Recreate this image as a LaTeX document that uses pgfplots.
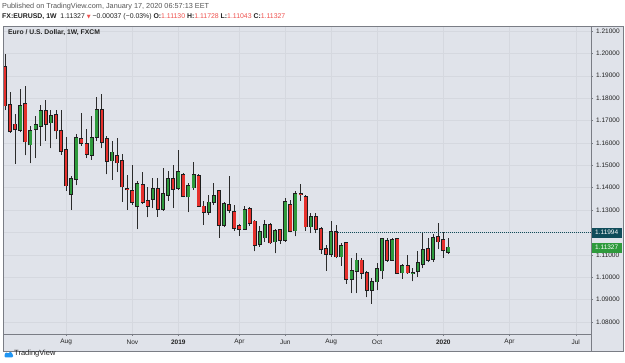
\documentclass[border=0pt]{standalone}
\usepackage{fontspec}
\setmainfont{Liberation Sans}
\newfontfamily\dejavu{DejaVu Sans}
\usepackage{pgfplots}
\usepackage{pgfplotstable}
\pgfplotsset{compat=1.18}
\definecolor{bg}{HTML}{E0E3EA}
\definecolor{gridc}{HTML}{D5D8DF}
\definecolor{upc}{HTML}{2E9A3C}
\definecolor{dnc}{HTML}{E5302C}
\definecolor{edge}{HTML}{1E1E1E}
\definecolor{wick}{HTML}{2B2B2B}
\definecolor{tealc}{HTML}{0F4C5A}
\definecolor{frame}{HTML}{7A7D85}
\definecolor{txt}{HTML}{222222}
\definecolor{hdr}{HTML}{555555}
\definecolor{redt}{HTML}{EF5350}
\definecolor{tvblue}{HTML}{2196F3}

\pgfplotstableread{
i O H L C
3 1.1658 1.1840 1.1648 1.1767
5 1.1592 1.1676 1.1509 1.1655
6 1.1661 1.1721 1.1532 1.1680
7 1.1676 1.1770 1.1587 1.1743
9 1.1691 1.1747 1.1576 1.1721
13 1.1372 1.1450 1.1301 1.1438
14 1.1438 1.1640 1.1410 1.1621
17 1.1546 1.1721 1.1524 1.1621
18 1.1625 1.1804 1.1610 1.1747
21 1.1521 1.1610 1.1435 1.1558
26 1.1319 1.1430 1.1215 1.1417
29 1.1350 1.1445 1.1309 1.1395
31 1.1304 1.1487 1.1298 1.1371
32 1.1368 1.1476 1.1342 1.1439
34 1.1398 1.1569 1.1390 1.1469
36 1.1360 1.1420 1.1291 1.1408
37 1.1400 1.1514 1.1390 1.1457
40 1.1291 1.1368 1.1279 1.1334
41 1.1334 1.1420 1.1323 1.1363
43 1.1234 1.1338 1.1224 1.1326
47 1.1215 1.1320 1.1212 1.1301
50 1.1148 1.1229 1.1137 1.1204
51 1.1177 1.1256 1.1159 1.1234
53 1.1159 1.1215 1.1107 1.1207
55 1.1167 1.1353 1.1159 1.1335
57 1.1208 1.1383 1.1182 1.1372
60 1.1226 1.1289 1.1197 1.1271
64 1.1104 1.1252 1.1092 1.1201
66 1.1092 1.1152 1.1051 1.1140
68 1.0993 1.1085 1.0929 1.1029
69 1.1026 1.1110 1.0929 1.1075
72 1.0944 1.0996 1.0881 1.0978
73 1.0980 1.1065 1.0942 1.1036
74 1.1030 1.1173 1.0993 1.1170
76 1.1078 1.1175 1.1073 1.1167
78 1.1021 1.1058 1.0993 1.1049
80 1.1020 1.1040 1.0981 1.1021
81 1.1029 1.1117 1.1002 1.1063
82 1.1058 1.1200 1.1040 1.1122
84 1.1081 1.1193 1.1070 1.1175
87 1.1113 1.1173 1.1104 1.1133
}\upd

\pgfplotstableread{
i O H L C
0 1.1938 1.1997 1.1747 1.1767
1 1.1770 1.1827 1.1645 1.1652
2 1.1683 1.1729 1.1508 1.1660
4 1.1773 1.1855 1.1544 1.1606
8 1.1743 1.1792 1.1610 1.1685
10 1.1725 1.1747 1.1617 1.1655
11 1.1655 1.1747 1.1546 1.1564
12 1.1569 1.1628 1.1387 1.1409
15 1.1617 1.1733 1.1587 1.1599
16 1.1596 1.1661 1.1532 1.1551
19 1.1747 1.1819 1.1576 1.1603
20 1.1617 1.1631 1.1460 1.1520
22 1.1542 1.1621 1.1470 1.1512
23 1.1520 1.1551 1.1338 1.1405
24 1.1396 1.1457 1.1301 1.1391
25 1.1387 1.1502 1.1323 1.1335
27 1.1413 1.1472 1.1328 1.1335
28 1.1341 1.1405 1.1267 1.1319
30 1.1393 1.1445 1.1271 1.1304
33 1.1438 1.1502 1.1309 1.1395
35 1.1457 1.1467 1.1358 1.1363
38 1.1453 1.1462 1.1316 1.1319
39 1.1316 1.1342 1.1234 1.1291
42 1.1386 1.1390 1.1177 1.1234
44 1.1323 1.1450 1.1286 1.1301
45 1.1291 1.1323 1.1207 1.1219
46 1.1229 1.1238 1.1185 1.1216
48 1.1305 1.1313 1.1229 1.1242
49 1.1249 1.1256 1.1115 1.1142
52 1.1234 1.1241 1.1149 1.1155
54 1.1212 1.1215 1.1150 1.1167
56 1.1323 1.1346 1.1200 1.1207
58 1.1373 1.1417 1.1342 1.1370
59 1.1360 1.1368 1.1207 1.1226
61 1.1271 1.1286 1.1197 1.1215
62 1.1215 1.1226 1.1104 1.1125
63 1.1125 1.1143 1.1030 1.1104
65 1.1201 1.1234 1.1085 1.1092
67 1.1152 1.1159 1.0971 1.0992
70 1.1075 1.1085 1.0992 1.1018
71 1.1018 1.1030 1.0910 1.0944
75 1.1163 1.1177 1.1070 1.1078
77 1.1170 1.1175 1.1015 1.1018
79 1.1049 1.1100 1.1015 1.1021
83 1.1127 1.1175 1.1066 1.1078
85 1.1179 1.1242 1.1125 1.1159
86 1.1167 1.1200 1.1087 1.1120
}\dnd

\pgfplotsset{candle/.style={only marks, mark size=0pt, mark options={draw=none, fill=none}, forget plot,
  error bars/.cd, y dir=plus, y explicit, error mark=none, error bar style={#1}}}

\begin{document}
\begin{tikzpicture}[x=1pt,y=1pt]
\useasboundingbox (0,0) rectangle (625,363);
\fill[white] (0,0) rectangle (625,363);
\fill[bg] (3.5,12) rectangle (623,337);

\begin{axis}[
  at={(3.5pt,29pt)}, anchor=south west,
  scale only axis, width=587.5pt, height=308pt,
  xmin=-0.294, xmax=114.99, ymin=1.07464, ymax=1.21223,
  clip=false,
  axis background/.style={fill=bg},
  axis line style={draw=frame, line width=0.6pt},
  grid=major, grid style={draw=gridc, line width=0.5pt},
  xtick={12,25,34,46,55,64,73,86,99,112},
  xticklabels={Aug,Nov,\textbf{2019},Apr,Jun,Aug,Oct,\textbf{2020},Apr,Jul},
  ytick={1.08,1.09,1.10,1.11,1.12,1.13,1.14,1.15,1.16,1.17,1.18,1.19,1.20,1.21},
  xtick pos=left, ytick pos=right,
  tick align=outside, major tick length=2pt,
  tick style={draw=frame, line width=0.5pt},
  ticklabel style={font=\fontsize{6.5}{7}\selectfont, text=txt},
  /pgf/number format/assume math mode=true,
  yticklabel style={/pgf/number format/.cd, fixed, fixed zerofill, precision=5, /tikz/.cd, anchor=west, inner sep=0pt, xshift=3pt},
  xticklabel style={anchor=center, yshift=-6pt},
]
% wicks
\addplot[candle={draw=wick, line width=0.9pt}]
  table[x=i, y=L, y error plus expr=\thisrow{H}-\thisrow{L}] {\upd};
\addplot[candle={draw=wick, line width=0.9pt}]
  table[x=i, y=L, y error plus expr=\thisrow{H}-\thisrow{L}] {\dnd};
% body outlines
\addplot[candle={draw=edge, line width=4.0pt}]
  table[x=i, y expr=\thisrow{O}-0.00035, y error plus expr=\thisrow{C}-\thisrow{O}+0.0007] {\upd};
\addplot[candle={draw=edge, line width=4.0pt}]
  table[x=i, y expr=\thisrow{C}-0.00035, y error plus expr=\thisrow{O}-\thisrow{C}+0.0007] {\dnd};
% body fills
\addplot[candle={draw=upc, line width=2.5pt}]
  table[x=i, y=O, y error plus expr=\thisrow{C}-\thisrow{O}] {\upd};
\addplot[candle={draw=dnc, line width=2.5pt}]
  table[x=i, y=C, y error plus expr=\thisrow{O}-\thisrow{C}] {\dnd};
% resistance line
\addplot[tealc, line width=0.8pt, dash pattern=on 1pt off 1pt, forget plot] coordinates {(65,1.11994) (114.99,1.11994)};
% price labels
\node[fill=tealc, text=white, anchor=west, inner sep=0pt, minimum width=31pt, minimum height=10pt,
  font=\fontsize{6.5}{7}\selectfont] at (axis cs:114.99,1.11994) {1.11994};
\node[fill=upc, text=white, anchor=west, inner sep=0pt, minimum width=31pt, minimum height=10pt,
  font=\fontsize{6.5}{7}\selectfont] at (axis cs:114.99,1.11327) {1.11327};
\end{axis}

% frame
\draw[frame, line width=0.6pt] (3.5,12) rectangle (623,337);
\draw[frame, line width=0.6pt] (591,12) -- (591,337);

% header
\node[anchor=west, inner sep=0pt, text=hdr, font=\fontsize{7.3}{8}\selectfont] at (2,356)
  {Published on TradingView.com, January 17, 2020 06:57:13 EET};
\node[anchor=west, inner sep=0pt, text=txt, font=\fontsize{6.9}{8}\selectfont] at (2,346)
  {\textbf{FX:EURUSD, 1W}\ \ 1.11327 {\color{redt}\dejavu\fontsize{5}{6}\selectfont ▼} −0.00037 (−0.03\%)\ \textbf{O:}{\color{redt}1.11130}\ \textbf{H:}{\color{redt}1.11728}\ \textbf{L:}{\color{redt}1.11043}\ \textbf{C:}{\color{redt}1.11327}};
\node[anchor=west, inner sep=0pt, text=txt, font=\bfseries\fontsize{6.8}{8}\selectfont] at (8,330)
  {Euro / U.S. Dollar, 1W, FXCM};

% footer
\fill[tvblue, rounded corners=1pt] (4.5,5.5) -- (13,5.5) -- (13,8.5) -- (10.5,11.5) -- (8.2,9.3) -- (6.3,11) -- (4.5,8.5) -- cycle;
\node[anchor=west, inner sep=0pt, text=txt, font=\fontsize{7.5}{8}\selectfont] at (14,9) {TradingView};
\end{tikzpicture}
\end{document}
